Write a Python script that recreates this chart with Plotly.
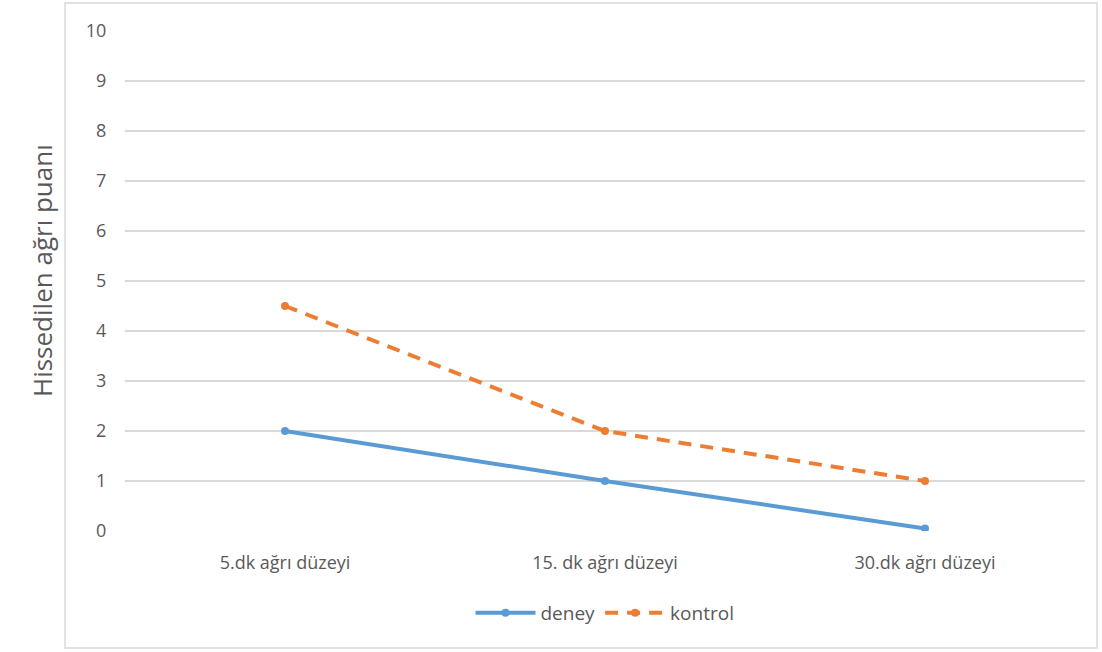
import plotly.graph_objects as go

categories = ["5.dk ağrı düzeyi", "15. dk ağrı düzeyi", "30.dk ağrı düzeyi"]
deney = [2.0, 1.0, 0.05]
kontrol = [4.5, 2.0, 1.0]
y_ticks = list(range(0, 11))

W, H = 1102, 652
L, R, T, B = 125, 17, 31, 121
pw, ph = W - L - R, H - T - B

fig = go.Figure()
fig.add_trace(go.Scatter(
    x=categories, y=deney, name="deney", mode="lines+markers",
    line=dict(color="#5B9BD5", width=4),
    marker=dict(size=8, color="#5B9BD5"),
))
fig.add_trace(go.Scatter(
    x=categories, y=kontrol, name="kontrol", mode="lines+markers",
    line=dict(color="#ED7D31", width=4, dash="13px,9px"),
    marker=dict(size=8, color="#ED7D31"),
))

def px(x):
    return (x - L) / pw

def py(y):
    return (H - B - y) / ph

fig.add_shape(type="rect", xref="paper", yref="paper",
              x0=px(65), x1=px(1097), y0=py(648), y1=py(3),
              line=dict(color="#D9D9D9", width=1.5), layer="below")

fig.add_annotation(text="Hissedilen ağrı puanı", xref="paper", yref="paper",
                   x=px(22), y=py(271), textangle=-90, showarrow=False,
                   font=dict(size=26, color="#595959", family="Open Sans"))

fig.update_layout(
    width=W, height=H,
    margin=dict(l=L, r=R, t=T, b=B, autoexpand=False),
    plot_bgcolor="white", paper_bgcolor="white",
    font=dict(family="Open Sans", size=18, color="#595959"),
    showlegend=True,
    legend=dict(orientation="h", x=0.5, xanchor="center", y=py(613),
                yanchor="middle", font=dict(size=19, color="#595959"),
                itemwidth=60),
    xaxis=dict(type="category", range=[-0.5, 2.5], showgrid=False,
               zeroline=False, showline=False, ticks="outside", ticklen=15,
               tickcolor="rgba(0,0,0,0)", tickfont=dict(size=18)),
    yaxis=dict(range=[0, 10], tickvals=y_ticks, showgrid=True,
               gridcolor="#D9D9D9", gridwidth=1.5, zeroline=False,
               showline=False, ticks="outside", ticklen=14,
               tickcolor="rgba(0,0,0,0)", tickfont=dict(size=18)),
)

fig.write_html("out.html", config={"displayModeBar": False},
               post_script="document.body.style.margin='0';document.body.style.padding='0';")
